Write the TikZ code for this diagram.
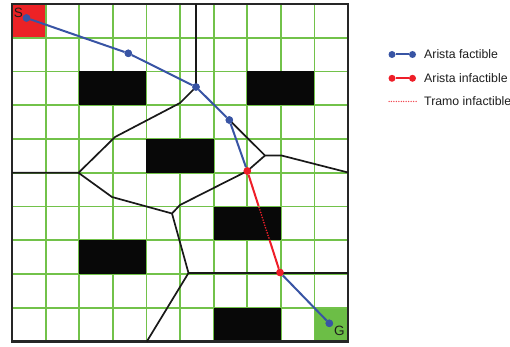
\documentclass[tikz,border=0pt]{standalone}
\usepackage{fontspec}
\setmainfont{Liberation Sans}
\usetikzlibrary{calc}
\definecolor{cellred}{RGB}{236,34,38}
\definecolor{cellgreen}{RGB}{108,190,70}
\definecolor{gridgreen}{RGB}{114,194,74}
\definecolor{pathblue}{RGB}{56,84,164}
\definecolor{pathred}{RGB}{238,30,40}
\definecolor{txt}{RGB}{30,30,30}
\begin{document}
\begin{tikzpicture}[x=1pt,y=-1pt,
  gridline/.style={draw=gridgreen,line width=1.8pt},
  border/.style={draw=black!85,line width=2.3pt},
  obstacle/.style={fill=black!97},
  voronoi/.style={draw=black!90,line width=1.7pt,line join=round},
  feasible/.style={draw=pathblue,line width=2pt},
  infeasible/.style={draw=pathred,line width=2pt},
  reddot/.style={fill=pathred},
  bdot/.style={circle,fill=pathblue,inner sep=0pt,minimum size=7.5pt},
  rdot/.style={circle,fill=pathred,inner sep=0pt,minimum size=7.5pt},
  leg/.style={anchor=west,font=\fontsize{12.3}{14}\selectfont,text=txt,inner sep=0pt},
  lbl/.style={font=\fontsize{13.5}{15}\selectfont,text=txt,inner sep=0pt}]
\useasboundingbox (0,0) rectangle (510,347);
\def\cx{33.6}\def\cy{33.75}
% start / goal cells
\fill[cellred] (12,4) rectangle ++(\cx,\cy);
\fill[cellgreen] (12+9*\cx,4+9*\cy) rectangle ++(\cx,\cy);
% grid
\foreach \i in {1,...,9}{
  \draw[gridline] (12+\i*\cx,4) -- (12+\i*\cx,341.5);
  \draw[gridline] (12,4+\i*\cy) -- (348,4+\i*\cy);
}
% obstacles
\foreach \c/\r in {2/2,7/2,4/4,6/6,2/7,6/9}
  \fill[obstacle] (12+\c*\cx,4+\r*\cy) rectangle ++(2*\cx,\cy);
% border
\draw[border] (12,4) rectangle (348,341.5);
% voronoi coordinates
\coordinate (V1) at (196,4);
\coordinate (V2) at (180,103);
\coordinate (V3) at (115,137);
\coordinate (V4) at (78.5,172.8);
\coordinate (V5) at (12,172.8);
\coordinate (V6) at (112,197);
\coordinate (J1) at (172,213.5);
\coordinate (K) at (180,205);
\coordinate (V7) at (188.5,273);
\coordinate (V8) at (348,273);
\coordinate (V9) at (146.8,341.5);
\coordinate (J2) at (265,155.5);
\coordinate (V10) at (281.5,155.5);
\coordinate (V11) at (348,172.5);
% path nodes
\node[bdot] (S) at (26.5,18) {};
\node[bdot] (B1) at (128.3,53.3) {};
\node[bdot] (B2) at (196,87) {};
\node[bdot] (B3) at (229.3,120) {};
\node[rdot] (R1) at (247.3,171) {};
\node[rdot] (R2) at (280,272.5) {};
\node[bdot] (G) at (329.3,323.3) {};
% voronoi edges
\draw[voronoi] (V1) -- (B2.center) -- (V2) -- (V3) -- (V4) -- (V5);
\draw[voronoi] (V4) -- (V6) -- (J1) -- (K) -- (R1.center);
\draw[voronoi] (J1) -- (V7) -- (V8);
\draw[voronoi] (V7) -- (V9);
\draw[voronoi] (B3.center) -- (J2) -- (V10) -- (V11);
\draw[voronoi] (J2) -- (R1.center);
% planned path
\draw[feasible] (S) -- (B1) -- (B2) -- (B3) -- (R1);
\coordinate (D1) at ($(R1.center)!0.345!(R2.center)$);
\coordinate (D2) at ($(R1.center)!0.68!(R2.center)$);
\draw[infeasible] (R1) -- (D1);
\foreach \t in {0.04,0.115,...,1.0}
  \fill[reddot] ($(D1)!\t!(D2)$) circle (0.9pt);
\draw[infeasible] (D2) -- (R2);
\draw[feasible] (R2) -- (G);
\node[bdot] at (S) {};\node[bdot] at (B1) {};\node[bdot] at (B2) {};
\node[bdot] at (B3) {};\node[rdot] at (R1) {};\node[rdot] at (R2) {};
\node[bdot] at (G) {};
% labels
\node[lbl] (Slbl) at (18.5,13.3) {S};
\node[lbl] (Glbl) at (339.3,331) {G};
% legend
\node[bdot,minimum size=7pt] (L1a) at (392,54.5) {};
\node[bdot,minimum size=7pt] (L1b) at (412.5,54.5) {};
\draw[feasible] (L1a) -- (L1b);
\node[leg] (T1) at (424,54.5) {Arista factible};
\node[rdot,minimum size=7pt] (L2a) at (392,78.3) {};
\node[rdot,minimum size=7pt] (L2b) at (412.5,78.3) {};
\draw[infeasible] (L2a) -- (L2b);
\node[leg] (T2) at (424,78.3) {Arista infactible};
\coordinate (L3a) at (389,101.5);
\coordinate (L3b) at (416,101.5);
\foreach \t in {0,0.0909,...,1.01}
  \fill[pathred!80] ($(L3a)!\t!(L3b)$) circle (0.75pt);
\node[leg] (T3) at (424,101.5) {Tramo infactible};
\end{tikzpicture}
\end{document}
